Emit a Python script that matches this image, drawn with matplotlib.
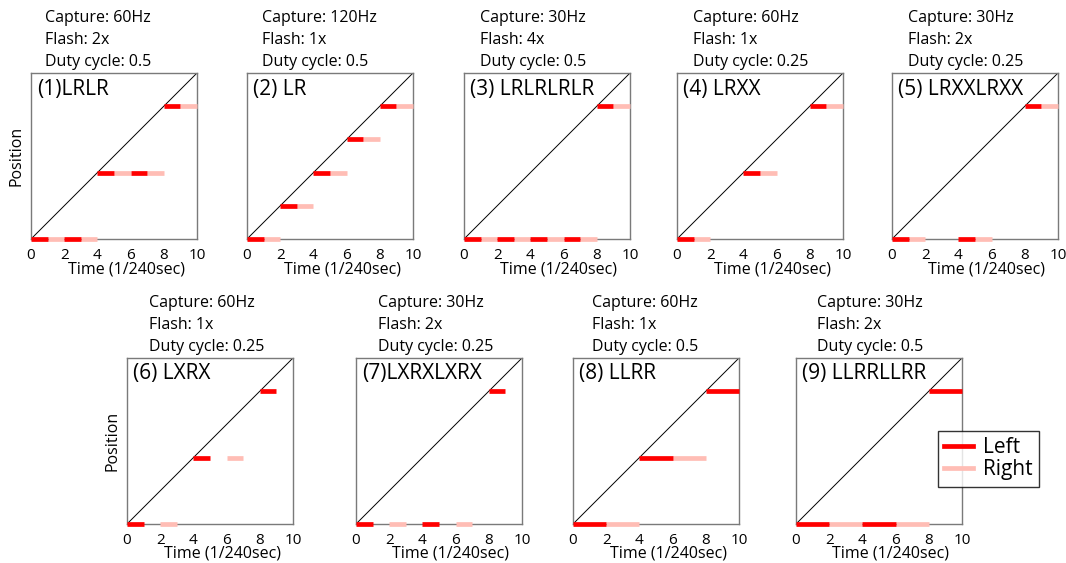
import matplotlib
matplotlib.use("Agg")
import matplotlib.pyplot as plt
from matplotlib.lines import Line2D

# ---------------- data ----------------
captures = ["60Hz", "120Hz", "30Hz", "60Hz", "30Hz", "60Hz", "30Hz", "60Hz", "30Hz"]
flashes = ["2x", "1x", "4x", "1x", "2x", "1x", "2x", "1x", "2x"]
duty_cycles = ["0.5", "0.5", "0.5", "0.25", "0.25", "0.25", "0.25", "0.5", "0.5"]
panel_labels = ["(1)LRLR", "(2) LR", "(3) LRLRLRLR", "(4) LRXX", "(5) LRXXLRXX",
                "(6) LXRX", "(7)LXRXLXRX", "(8) LLRR", "(9) LLRRLLRR"]

# segments: (position, start time, end time)
left_segments = [
    [(0, 0, 1), (0, 2, 3), (4, 4, 5), (4, 6, 7), (8, 8, 9)],
    [(0, 0, 1), (2, 2, 3), (4, 4, 5), (6, 6, 7), (8, 8, 9)],
    [(0, 0, 1), (0, 2, 3), (0, 4, 5), (0, 6, 7), (8, 8, 9)],
    [(0, 0, 1), (4, 4, 5), (8, 8, 9)],
    [(0, 0, 1), (0, 4, 5), (8, 8, 9)],
    [(0, 0, 1), (4, 4, 5), (8, 8, 9)],
    [(0, 0, 1), (0, 4, 5), (8, 8, 9)],
    [(0, 0, 2), (4, 4, 6), (8, 8, 10)],
    [(0, 0, 2), (0, 4, 6), (8, 8, 10)],
]
right_segments = [
    [(0, 1, 2), (0, 3, 4), (4, 5, 6), (4, 7, 8), (8, 9, 10)],
    [(0, 1, 2), (2, 3, 4), (4, 5, 6), (6, 7, 8), (8, 9, 10)],
    [(0, 1, 2), (0, 3, 4), (0, 5, 6), (0, 7, 8), (8, 9, 10)],
    [(0, 1, 2), (4, 5, 6), (8, 9, 10)],
    [(0, 1, 2), (0, 5, 6), (8, 9, 10)],
    [(0, 2, 3), (4, 6, 7)],
    [(0, 2, 3), (0, 6, 7)],
    [(0, 2, 4), (4, 6, 8)],
    [(0, 2, 4), (0, 6, 8)],
]
diag_t = [0, 10]
diag_pos = [0, 10]
xticks = [0, 2, 4, 6, 8, 10]

# ---------------- style / layout ----------------
FONT = ["Open Sans", "DejaVu Sans"]
plt.rcParams["font.family"] = FONT
LEFT_C = "#ff0000"
RIGHT_C = "#ffbdb5"
W, H = 1066, 563
fig = plt.figure(figsize=(W / 100, H / 100), dpi=100)

ax_left_px = [31, 247, 464, 677, 892, 127, 356, 573, 796]
ax_top_px = [73] * 5 + [358] * 4
ax_size_px = 166
title_dx_px = [14, 15, 16, 16, 16, 22, 22, 19, 21]

for i in range(9):
    l = ax_left_px[i] / W
    b = (H - ax_top_px[i] - ax_size_px) / H
    ax = fig.add_axes([l, b, ax_size_px / W, ax_size_px / H])
    ax.set_xlim(0, 10)
    ax.set_ylim(0, 10)
    ax.plot(diag_t, diag_pos, color="black", lw=0.7)
    for (y, x0, x1) in right_segments[i]:
        ax.hlines(y, x0, x1, color=RIGHT_C, lw=3.4, clip_on=False, zorder=3)
    for (y, x0, x1) in left_segments[i]:
        ax.hlines(y, x0, x1, color=LEFT_C, lw=3.4, clip_on=False, zorder=4)
    for s in ax.spines.values():
        s.set_color("#7a7a7a")
        s.set_linewidth(1.0)
    ax.set_xticks(xticks)
    ax.set_xticklabels([str(t) for t in xticks], fontsize=11)
    ax.tick_params(axis="x", length=0, pad=6.5)
    ax.set_yticks([])
    ax.set_xlabel("Time (1/240sec)", fontsize=11.5, va="center")
    ax.xaxis.set_label_coords(0.5 + 12 / ax_size_px, -30 / ax_size_px)
    if i in (0, 5):
        ax.set_ylabel("Position", fontsize=11.5, labelpad=5)
    lines = ["Capture: " + captures[i], "Flash: " + flashes[i],
             "Duty cycle: " + duty_cycles[i]]
    for k, txt in enumerate(lines):
        ax.annotate(txt, xy=(0, 1), xycoords="axes fraction",
                    xytext=(title_dx_px[i], 11 + 22 * (2 - k)),
                    textcoords="offset pixels", ha="left", va="center",
                    fontsize=11.5)
    ax.annotate(panel_labels[i], xy=(0, 1), xycoords="axes fraction",
                xytext=(6, -16), textcoords="offset pixels",
                ha="left", va="center", fontsize=15)

handles = [Line2D([], [], color=LEFT_C, lw=3.4),
           Line2D([], [], color=RIGHT_C, lw=3.4)]
leg = fig.legend(handles, ["Left", "Right"], loc="upper left",
                 bbox_to_anchor=(938 / W, 1 - 431 / H), fontsize=15,
                 frameon=True, fancybox=False, handlelength=1.4,
                 borderpad=0.3, labelspacing=0.05, handletextpad=0.45,
                 borderaxespad=0)
leg.get_frame().set_edgecolor("black")
leg.get_frame().set_linewidth(1.0)

fig.savefig("out.png", dpi=100)
